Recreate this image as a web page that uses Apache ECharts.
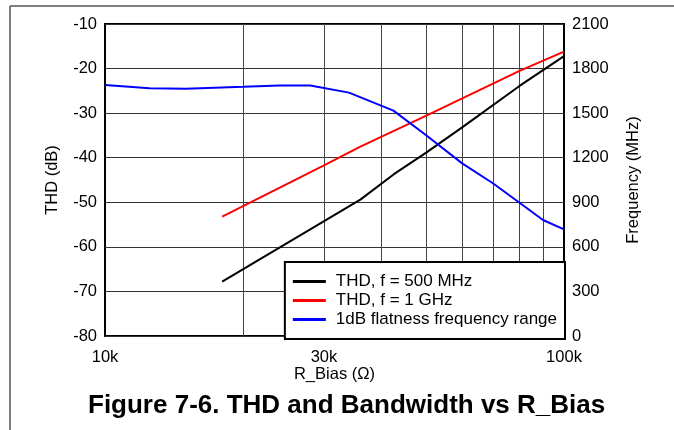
<!DOCTYPE html>
<html>
<head>
<meta charset="utf-8">
<script src="https://cdn.jsdelivr.net/npm/echarts@6/dist/echarts.min.js"></script>
<style>
  html, body { margin: 0; padding: 0; background: #fff; }
  #chart { width: 674px; height: 430px; }
</style>
</head>
<body>
<div id="chart"></div>
<script>
// R_Bias (ohm) sample points
var rBias500 = [18000, 36000, 42600, 50000, 60000, 80000, 100000];
var thd500 = [-67.8, -49.4, -43.7, -38.9, -33.2, -23.9, -17.2];

var rBias1G = [18000, 30000, 36000, 50000, 80000, 100000];
var thd1G = [-53.2, -41.7, -37.5, -30.6, -20.5, -16.2];

var rBiasBw = [10000, 12500, 15000, 20000, 24000, 28000, 34000, 42500, 50000, 60000, 70000, 80000, 90000, 100000];
var bwMHz = [1690, 1668, 1665, 1677, 1686, 1686, 1638, 1517, 1353, 1162, 1028, 897, 781, 718];

var xLabels = [10000, 30000, 100000];
var xGrid = [20000, 30000, 40000, 50000, 60000, 70000, 80000, 90000];

var seriesNames = ['THD, f = 500 MHz', 'THD, f = 1 GHz', '1dB flatness frequency range'];

function pairs(xs, ys) {
  return xs.map(function (x, i) { return [x, ys[i]]; });
}

var font = "'Liberation Sans', Arial, sans-serif";
var chart = echarts.init(document.getElementById('chart'));

var option = {
  animation: false,
  backgroundColor: '#fff',
  textStyle: { fontFamily: font },
  title: {
    text: 'Figure 7-6. THD and Bandwidth vs R_Bias',
    left: 88,
    top: 393,
    padding: 0,
    textStyle: { fontFamily: font, fontSize: 26, fontWeight: 'bold', color: '#000' }
  },
  grid: {
    left: 105, right: 110, top: 24, bottom: 94,
    show: true, borderColor: '#000', borderWidth: 2, backgroundColor: 'transparent'
  },
  legend: {
    data: seriesNames,
    orient: 'vertical',
    right: 109,
    top: 262,
    padding: [11, 8, 11, 8],
    itemGap: 2,
    itemWidth: 33,
    itemHeight: 3,
    icon: 'rect',
    backgroundColor: '#fff',
    borderColor: '#000',
    borderWidth: 2,
    textStyle: { fontFamily: font, fontSize: 17, lineHeight: 17, color: '#000', padding: [0, 0, 0, 5] }
  },
  xAxis: {
    type: 'log',
    logBase: 10,
    min: 10000,
    max: 100000,
    name: 'R_Bias (\u03A9)',
    nameLocation: 'middle',
    nameGap: 30,
    nameMoveOverlap: false,
    nameTextStyle: { fontFamily: font, fontSize: 16.5, color: '#000' },
    axisLine: { show: false },
    axisTick: { show: false, customValues: xGrid },
    axisLabel: {
      customValues: xLabels,
      margin: 13,
      fontFamily: font, fontSize: 16.5, color: '#000',
      formatter: function (v) { return Math.round(v / 1000) + 'k'; }
    },
    splitLine: { show: true, lineStyle: { color: '#444', width: 1 } }
  },
  yAxis: [
    {
      type: 'value',
      min: -80, max: -10, interval: 10,
      name: 'THD (dB)',
      nameLocation: 'middle',
      nameGap: 44,
      nameMoveOverlap: false,
      nameTextStyle: { fontFamily: font, fontSize: 16.5, color: '#000' },
      axisLine: { show: false },
      axisTick: { show: false },
      axisLabel: { margin: 8, fontFamily: font, fontSize: 16.5, color: '#000' },
      splitLine: { show: true, lineStyle: { color: '#333', width: 1 } }
    },
    {
      type: 'value',
      min: 0, max: 2100, interval: 300,
      name: 'Frequency (MHz)',
      nameLocation: 'middle',
      nameGap: 61,
      nameMoveOverlap: false,
      nameTextStyle: { fontFamily: font, fontSize: 16.5, color: '#000' },
      axisLine: { show: false },
      axisTick: { show: false },
      axisLabel: {
        margin: 8, fontFamily: font, fontSize: 16.5, color: '#000',
        formatter: function (v) { return String(v); }
      },
      splitLine: { show: false }
    }
  ],
  graphic: [
    { type: 'line', shape: { x1: 10, y1: 6, x2: 674, y2: 6 }, style: { stroke: '#555', lineWidth: 1.5 }, silent: true },
    { type: 'line', shape: { x1: 10, y1: 6, x2: 10, y2: 430 }, style: { stroke: '#555', lineWidth: 1.5 }, silent: true }
  ],
  series: [
    {
      name: seriesNames[0], type: 'line', yAxisIndex: 0,
      data: pairs(rBias500, thd500),
      showSymbol: false, symbol: 'none',
      lineStyle: { color: '#000', width: 2 }, itemStyle: { color: '#000' }
    },
    {
      name: seriesNames[1], type: 'line', yAxisIndex: 0,
      data: pairs(rBias1G, thd1G),
      showSymbol: false, symbol: 'none',
      lineStyle: { color: '#ff0000', width: 2 }, itemStyle: { color: '#ff0000' }
    },
    {
      name: seriesNames[2], type: 'line', yAxisIndex: 1,
      data: pairs(rBiasBw, bwMHz),
      showSymbol: false, symbol: 'none',
      lineStyle: { color: '#0000ff', width: 2 }, itemStyle: { color: '#0000ff' }
    }
  ]
};

chart.setOption(option);
</script>
</body>
</html>
